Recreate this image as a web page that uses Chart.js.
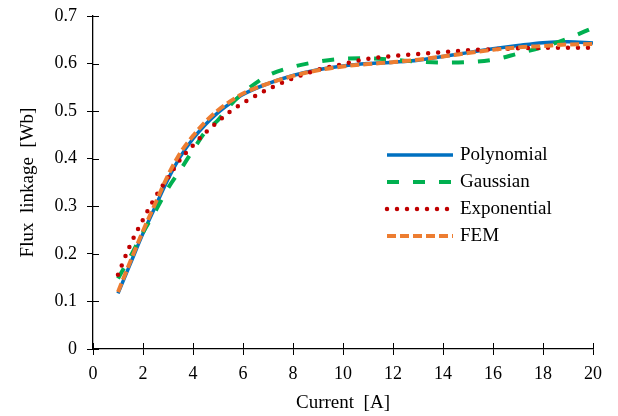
<!DOCTYPE html>
<html lang="en">
<head>
    <meta charset="UTF-8">
    <title>Flux linkage</title>
    <script src="https://cdn.jsdelivr.net/npm/chart.js"></script>
    <style>
        html, body { margin: 0; padding: 0; background: #fff; }
        #wrap { width: 618px; height: 416px; }
    </style>
</head>
<body>
    <div id="wrap"><canvas id="myChart"></canvas></div>
    <script>
        // corriente [A]
        const current = [1, 1.5, 2, 2.5, 3, 3.5, 4, 4.5, 5, 5.5, 6, 7, 8, 9, 10, 11, 12, 13, 14, 15, 16, 17, 18, 19, 20];
        const polynomial = [0.117, 0.180, 0.243, 0.300, 0.357, 0.405, 0.442, 0.472, 0.497, 0.517, 0.535, 0.558, 0.575, 0.587, 0.595, 0.600, 0.603, 0.607, 0.615, 0.623, 0.631, 0.638, 0.644, 0.646, 0.643];
        const gaussian = [0.148, 0.195, 0.245, 0.290, 0.338, 0.377, 0.418, 0.457, 0.481, 0.513, 0.538, 0.575, 0.593, 0.604, 0.610, 0.611, 0.608, 0.604, 0.602, 0.603, 0.608, 0.621, 0.635, 0.653, 0.675];
        const exponential = [0.156, 0.220, 0.272, 0.320, 0.360, 0.399, 0.428, 0.455, 0.478, 0.500, 0.517, 0.546, 0.569, 0.587, 0.599, 0.610, 0.616, 0.620, 0.624, 0.628, 0.630, 0.632, 0.633, 0.633, 0.633];
        const fem = [0.120, 0.185, 0.248, 0.307, 0.365, 0.413, 0.448, 0.478, 0.502, 0.521, 0.537, 0.558, 0.574, 0.586, 0.594, 0.599, 0.603, 0.608, 0.615, 0.622, 0.629, 0.634, 0.637, 0.640, 0.641];

        const xTicks = [0, 2, 4, 6, 8, 10, 12, 14, 16, 18, 20];
        const yTicks = [0, 0.1, 0.2, 0.3, 0.4, 0.5, 0.6, 0.7];

        const serif = "'Liberation Serif', 'Times New Roman', serif";

        function pts(ys) {
            return current.map((x, i) => ({ x: x, y: ys[i] }));
        }

        // leyenda dibujada dentro del área del gráfico
        const innerLegend = {
            id: 'innerLegend',
            afterDraw(chart) {
                const ctx = chart.ctx;
                const a = chart.chartArea;
                const x0 = a.left + 294, x1 = a.left + 360, tx = a.left + 367;
                let y = a.top + 139;
                ctx.save();
                ctx.font = '19px ' + serif;
                ctx.textBaseline = 'middle';
                chart.data.datasets.forEach(ds => {
                    ctx.beginPath();
                    ctx.strokeStyle = ds.borderColor;
                    ctx.lineWidth = ds.borderWidth;
                    ctx.lineCap = ds.borderCapStyle || 'butt';
                    ctx.setLineDash(ds.borderDash || []);
                    ctx.moveTo(x0, y);
                    ctx.lineTo(x1, y);
                    ctx.stroke();
                    ctx.setLineDash([]);
                    ctx.fillStyle = '#000';
                    ctx.fillText(ds.label, tx, y);
                    y += 27;
                });
                ctx.restore();
            }
        };

        // marcas hacia dentro, las de fuera las pone Chart.js
        const innerTicks = {
            id: 'innerTicks',
            afterDraw(chart) {
                const ctx = chart.ctx;
                const xs = chart.scales.x, ys = chart.scales.y;
                ctx.save();
                ctx.strokeStyle = '#000';
                ctx.lineWidth = 1;
                ctx.beginPath();
                xTicks.forEach(v => {
                    const px = Math.round(xs.getPixelForValue(v)) + 0.5;
                    ctx.moveTo(px, ys.bottom);
                    ctx.lineTo(px, ys.bottom - 6);
                });
                yTicks.forEach(v => {
                    const py = Math.round(ys.getPixelForValue(v)) + 0.5;
                    ctx.moveTo(xs.left, py);
                    ctx.lineTo(xs.left + 6, py);
                });
                ctx.stroke();
                ctx.restore();
            }
        };

        const data = {
            datasets: [
                {
                    label: 'Polynomial',
                    data: pts(polynomial),
                    borderColor: '#0070C0',
                    borderWidth: 3.5,
                    order: 4
                },
                {
                    label: 'Gaussian',
                    data: pts(gaussian),
                    borderColor: '#00B050',
                    borderWidth: 4,
                    borderDash: [12, 14],
                    order: 3
                },
                {
                    label: 'Exponential',
                    data: pts(exponential),
                    borderColor: '#C00000',
                    borderWidth: 4.5,
                    borderDash: [0, 10],
                    borderCapStyle: 'round',
                    order: 2
                },
                {
                    label: 'FEM',
                    data: pts(fem),
                    borderColor: '#ED7D31',
                    borderWidth: 4,
                    borderDash: [9, 4],
                    order: 1
                }
            ]
        };

        const config = {
            type: 'line',
            data: data,
            plugins: [innerTicks, innerLegend],
            options: {
                responsive: true,
                maintainAspectRatio: false,
                animation: false,
                layout: { padding: { left: 0, right: 25, top: 16, bottom: 0 } },
                elements: {
                    point: { radius: 0 },
                    line: { tension: 0.4, cubicInterpolationMode: 'monotone', fill: false }
                },
                plugins: {
                    legend: { display: false },
                    tooltip: { enabled: false }
                },
                scales: {
                    x: {
                        type: 'linear',
                        min: 0,
                        max: 20,
                        afterBuildTicks: s => { s.ticks = xTicks.map(v => ({ value: v })); },
                        afterFit: s => { s.height = 67; },
                        ticks: { color: '#000', font: { family: serif, size: 18 }, padding: 8, maxRotation: 0 },
                        grid: { drawOnChartArea: false, color: '#000', tickLength: 6 },
                        border: { color: '#000', width: 1.3 },
                        title: { display: true, text: 'Current  [A]', color: '#000', font: { family: serif, size: 19 }, padding: { top: 0, bottom: 2 } }
                    },
                    y: {
                        min: 0,
                        max: 0.7,
                        afterBuildTicks: s => { s.ticks = yTicks.map(v => ({ value: v })); },
                        afterFit: s => { s.width = 93; s.paddingTop = 0; },
                        ticks: { color: '#000', font: { family: serif, size: 18 }, padding: 10, callback: v => String(+v.toFixed(1)) },
                        grid: { drawOnChartArea: false, color: '#000', tickLength: 6 },
                        border: { color: '#000', width: 1.3 },
                        title: { display: true, text: 'Flux  linkage  [Wb]', color: '#000', font: { family: serif, size: 19 }, padding: { top: 17, bottom: 0 } }
                    }
                }
            }
        };

        const myChart = new Chart(document.getElementById('myChart'), config);
    </script>
</body>
</html>
